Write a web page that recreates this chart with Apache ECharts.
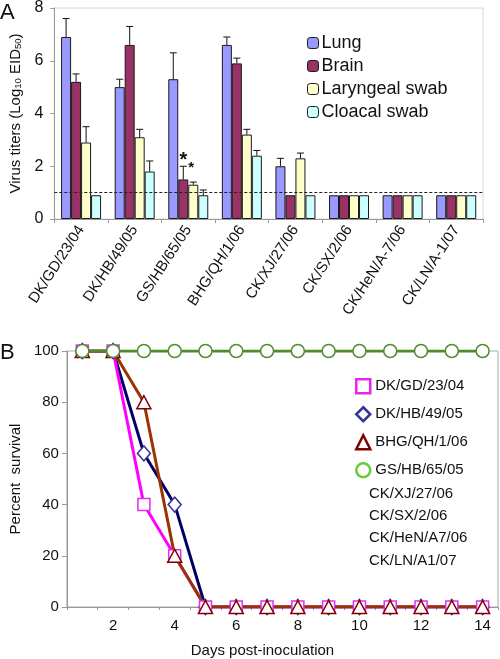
<!DOCTYPE html>
<html><head><meta charset="utf-8">
<script src="https://cdn.jsdelivr.net/npm/echarts@6/dist/echarts.min.js"></script>
<style>html,body{margin:0;padding:0;background:#fff}#c{width:500px;height:659px}</style>
</head><body><div id="c"></div>
<script>
// ---- Panel A data ----
const strains = ['DK/GD/23/04','DK/HB/49/05','GS/HB/65/05','BHG/QH/1/06','CK/XJ/27/06','CK/SX/2/06','CK/HeN/A-7/06','CK/LN/A-1/07'];
const tissues = ['Lung','Brain','Laryngeal swab','Cloacal swab'];
const lung      = [6.9, 5.0, 5.3, 6.6, 2.0, 0.9, 0.9, 0.9];
const brain     = [5.2, 6.6, 1.5, 5.9, 0.9, 0.9, 0.9, 0.9];
const laryngeal = [2.9, 3.1, 1.3, 3.2, 2.3, 0.9, 0.9, 0.9];
const cloacal   = [0.9, 1.8, 0.9, 2.4, 0.9, 0.9, 0.9, 0.9];
const lungUpper      = [7.6, 5.3, 6.3, 6.9, 2.3, null, null, null];
const brainUpper     = [5.5, 7.3, 2.0, 6.1, null, null, null, null];
const laryngealUpper = [3.5, 3.4, 1.4, 3.4, 2.5, null, null, null];
const cloacalUpper   = [null, 2.2, 1.1, 2.6, null, null, null, null];
const detectionLimit = 1.0;
const starMarks = [[2, 2.2], [2, 1.95]]; // [strain index, titer] of significance asterisks
const yMinA = 0, yMaxA = 8, yStepA = 2;

// ---- Panel B data ----
const days = ['1','2','3','4','5','6','7','8','9','10','11','12','13','14'];
const survDKGD = [100,100,40,20,0,0,0,0,0,0,0,0,0,0];
const survDKHB = [100,100,60,40,0,0,0,0,0,0,0,0,0,0];
const survBHG  = [100,100,80,20,0,0,0,0,0,0,0,0,0,0];
const survGSHB = [100,100,100,100,100,100,100,100,100,100,100,100,100,100];
const survNames = ['DK/GD/23/04','DK/HB/49/05','BHG/QH/1/06','GS/HB/65/05'];
const extraStrains = ['CK/XJ/27/06','CK/SX/2/06','CK/HeN/A7/06','CK/LN/A1/07'];
const yMinB = 0, yMaxB = 100, yStepB = 20;

const FONT = "'Liberation Sans', Arial, sans-serif";
const barColors = ['#9999ff','#993366','#ffffcc','#ccffff'];
const barVals = [lung, brain, laryngeal, cloacal];
const barUpper = [lungUpper, brainUpper, laryngealUpper, cloacalUpper];
const BW = 10;

const chart = echarts.init(document.getElementById('c'), null, {renderer:'canvas'});

const series = [];
barVals.forEach((vals, k) => {
  const s = {
    type:'bar', name: tissues[k], xAxisIndex:0, yAxisIndex:0,
    data: vals, barWidth: BW, barGap:'0%',
    itemStyle:{color: barColors[k], borderColor:'#1a1a1a', borderWidth:1},
    emphasis:{disabled:true}, z:2
  };
  if (k === 0) {
    s.markLine = {silent:true, symbol:['none','none'], label:{show:false},
      lineStyle:{type:[3,2], color:'#222', width:1},
      data:[{yAxis: detectionLimit}], z:5};
  }
  series.push(s);
});
barUpper.forEach((ups, k) => {
  const data = [];
  ups.forEach((u, i) => { if (u != null) data.push([i, u, barVals[k][i]]); });
  series.push({
    type:'custom', xAxisIndex:0, yAxisIndex:0, silent:true, z:4,
    data: data,
    renderItem: function(params, api){
      const base = api.coord([api.value(0), api.value(2)]);
      const top = api.coord([api.value(0), api.value(1)]);
      const x = base[0] + (k - 1.5) * BW;
      return {type:'group', children:[
        {type:'line', shape:{x1:x, y1:base[1], x2:x, y2:top[1]}, style:{stroke:'#111', lineWidth:1}},
        {type:'line', shape:{x1:x-3.5, y1:top[1], x2:x+3.5, y2:top[1]}, style:{stroke:'#111', lineWidth:1}}
      ]};
    }
  });
});
series.push({
  type:'custom', xAxisIndex:0, yAxisIndex:0, silent:true, z:6,
  data: starMarks,
  renderItem: function(params, api){
    const p = api.coord([api.value(0), api.value(1)]);
    const big = params.dataIndex === 0;
    const dx = big ? (1 - 1.5) * BW : (1.8 - 1.5) * BW;
    return {type:'text', x: p[0] + dx, y: p[1],
      style:{text:'*', fill:'#111', font: (big ? 'bold 20px ' : 'bold 15px ') + FONT, align:'center', verticalAlign:'middle'}};
  }
});

// Panel B lines (draw order: navy, magenta, brown, green)
const lineDefs = [
  {name:'DK/HB/49/05', data: survDKHB, line:'#000066', sym:'diamond', border:'#333399', size:[13,15]},
  {name:'DK/GD/23/04', data: survDKGD, line:'#ff00ff', sym:'rect', border:'#e030ee', size:12},
  {name:'BHG/QH/1/06', data: survBHG, line:'#993300', sym:'triangle', border:'#800000', size:[14,13]},
  {name:'GS/HB/65/05', data: survGSHB, line:'#4f8a2c', sym:'circle', border:'#4f8f2f', size:13}
];
lineDefs.forEach(d => {
  series.push({
    type:'line', name:d.name, xAxisIndex:1, yAxisIndex:1, data:d.data,
    symbol:d.sym, symbolSize:d.size, showAllSymbol:true,
    lineStyle:{color:d.line, width:3},
    itemStyle:{color:'#fff', borderColor:d.border, borderWidth:1.5},
    emphasis:{disabled:true}
  });
});

const legendIcon = {
  'DK/GD/23/04': {icon:'rect', c:'#ee22ee'},
  'DK/HB/49/05': {icon:'diamond', c:'#333399'},
  'BHG/QH/1/06': {icon:'triangle', c:'#800000'},
  'GS/HB/65/05': {icon:'circle', c:'#66cc33'}
};

const option = {
  animation:false,
  backgroundColor:'#fff',
  textStyle:{fontFamily: FONT},
  grid:[
    {left:50, top:7, width:433, height:212, show:true, borderColor:'#d8d8d8', borderWidth:1},
    {left:55, top:351, width:443, height:261, show:true, borderColor:'#aaaaaa', borderWidth:1}
  ],
  legend:[
    {data: tissues, orient:'vertical', left:302, top:29, itemWidth:11, itemHeight:11, itemGap:5,
     textStyle:{fontSize:18, color:'#111', fontFamily:FONT, padding:[0,0,0,-2]}, selectedMode:false,
     itemStyle:{borderColor:'#1a1a1a', borderWidth:1}},
    {data: survNames.map(n => ({name:n, icon:legendIcon[n].icon,
        itemStyle:{color:'#fff', borderColor:legendIcon[n].c, borderWidth:2.5}})),
     orient:'vertical', left:350, top:373, itemWidth:14, itemHeight:14, itemGap:11.5,
     textStyle:{fontSize:15, color:'#111', fontFamily:FONT}, selectedMode:false}
  ],
  xAxis:[
    {type:'category', gridIndex:0, data: strains, boundaryGap:true,
     axisLine:{lineStyle:{color:'#999'}}, axisTick:{show:true, length:4, lineStyle:{color:'#999'}, interval:0},
     axisLabel:{interval:0, rotate:57, fontSize:15, color:'#111', margin:8, fontFamily:FONT}},
    {type:'category', gridIndex:1, data: days, boundaryGap:true,
     axisLine:{lineStyle:{color:'#999'}}, axisTick:{show:true, length:3, interval:0, lineStyle:{color:'#999'}},
     axisLabel:{interval: (i) => i % 2 === 1, fontSize:15, color:'#111', margin:11, fontFamily:FONT},
     name:'Days post-inoculation', nameLocation:'middle', nameGap:36,
     nameTextStyle:{fontSize:15, color:'#111', fontFamily:FONT, padding:[0,40,0,0]}}
  ],
  yAxis:[
    {type:'value', gridIndex:0, min:yMinA, max:yMaxA, interval:yStepA,
     axisLine:{show:true, lineStyle:{color:'#999'}}, axisTick:{show:true, length:4, lineStyle:{color:'#999'}},
     splitLine:{show:false},
     axisLabel:{fontSize:16, color:'#111', margin:11, fontFamily:FONT},
     name:'{n|Virus titers (Log}{s|10}{n| EID}{s|50}{n|)}', nameLocation:'middle', nameGap:28, nameRotate:90,
     nameTextStyle:{color:'#111', fontFamily:FONT, rich:{
       n:{fontSize:15, color:'#111', fontFamily:FONT},
       s:{fontSize:9.5, color:'#111', fontFamily:FONT, verticalAlign:'bottom', padding:[6,0,0,0]}}}},
    {type:'value', gridIndex:1, min:yMinB, max:yMaxB, interval:yStepB,
     axisLine:{show:true, lineStyle:{color:'#999'}}, axisTick:{show:true, length:5, lineStyle:{color:'#999'}},
     splitLine:{show:false},
     axisLabel:{fontSize:15, color:'#111', margin:8, fontFamily:FONT},
     name:'Percent  survival', nameLocation:'middle', nameGap:42, nameRotate:90,
     nameTextStyle:{fontSize:15, color:'#111', fontFamily:FONT}}
  ],
  graphic:[
    {type:'text', left:0, top:2, style:{text:'A', font:'22px '+FONT, fill:'#111'}},
    {type:'text', left:0, top:342, style:{text:'B', font:'22px '+FONT, fill:'#111'}},
    ...extraStrains.map((t, i) => ({type:'text', left:369, top:486 + i*22.3,
      style:{text:t, font:'15px '+FONT, fill:'#111'}}))
  ],
  series: series
};
chart.setOption(option);
</script></body></html>
